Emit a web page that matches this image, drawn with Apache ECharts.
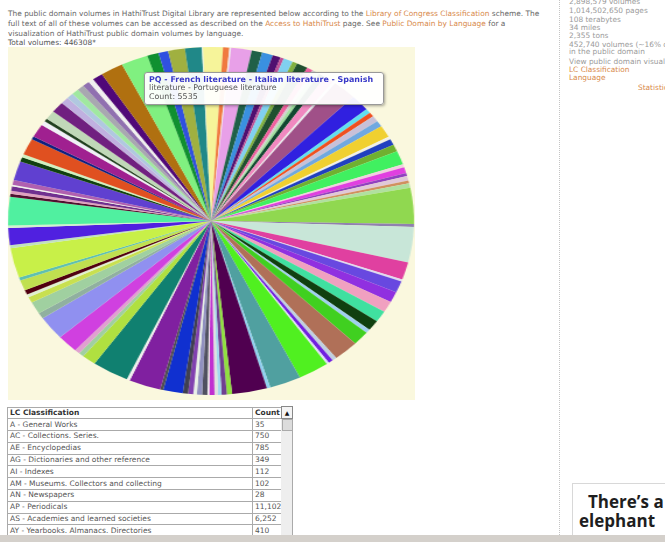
<!DOCTYPE html>
<html><head><meta charset="utf-8">
<script src="https://cdn.jsdelivr.net/npm/echarts@6/dist/echarts.min.js"></script>
<style>
html,body{margin:0;padding:0;background:#fff;width:665px;height:542px;overflow:hidden;position:relative;font-family:"DejaVu Sans",Verdana,sans-serif;}
.abs{position:absolute;white-space:nowrap;}
.intro{left:8px;font-size:7.43px;line-height:10px;color:#666;}
.intro a,.side a{color:#d8894a;text-decoration:none;}
.side{left:569px;font-size:7.4px;line-height:8px;color:#9a9a9a;}
#cream{left:8px;top:47px;width:407px;height:353px;background:#faf8de;}
#pie{left:31px;top:41px;width:360px;height:360px;transform:scaleX(1.1667);transform-origin:50% 50%;}
#tip{left:144px;top:72px;width:230px;height:27px;background:rgba(255,255,255,0.94);border:1px solid #999;border-radius:3px;box-shadow:1px 1px 3px rgba(0,0,0,.35);font-size:7.9px;line-height:8.4px;color:#555;padding:3px 4px 1px 4px;}
#tip b{color:#3838c8;font-size:7.95px;}
#tbl{left:7px;top:406.5px;border-collapse:collapse;table-layout:fixed;font-size:7.5px;color:#555;border:1px solid #888;}
#tbl td{border:1px solid #aaa;height:10.8px;padding:0 0 0 2px;line-height:10px;overflow:hidden;white-space:nowrap;}
#tbl tr.h td{font-weight:bold;color:#333;}
#scroll{left:281px;top:406px;width:11px;height:129px;background:#eeeeee;border:1px solid #aaa;border-left:none;}
#up{left:281px;top:406px;width:10px;height:11px;background:#f4f4f4;border:1px solid #888;font-size:6px;line-height:11px;text-align:center;color:#111;}
#thumb{left:282px;top:419px;width:9px;height:10px;background:#dcdcdc;border:1px solid #aaa;}
#vline{left:559px;top:0;height:535px;border-left:1px dotted #c4c4c4;}
#bar{left:0;top:535px;width:665px;height:7px;background:#d4d0cb;}
#eleph{left:572px;top:483px;width:100px;height:60px;border:1px solid #d8d8d8;background:#fff;}
.big{font-family:"Open Sans","Liberation Sans",sans-serif;font-weight:bold;font-size:17px;color:#1e1e1e;line-height:20px;}
</style></head>
<body>
<div class="abs intro" style="top:9px">The public domain volumes in HathiTrust Digital Library are represented below according to the <a>Library of Congress Classification</a> scheme. The</div>
<div class="abs intro" style="top:19px">full text of all of these volumes can be accessed as described on the <a>Access to HathiTrust</a> page. See <a>Public Domain by Language</a> for a</div>
<div class="abs intro" style="top:28.5px">visualization of HathiTrust public domain volumes by language.</div>
<div class="abs intro" style="top:38px;color:#555">Total volumes: 446308*</div>

<div id="cream" class="abs"></div>
<div id="pie" class="abs"></div>
<div id="tip" class="abs"></div>

<table id="tbl" class="abs"><colgroup><col style="width:245px"><col style="width:28px"></colgroup><tbody id="tbody"></tbody></table>
<div id="scroll" class="abs"></div>
<div id="up" class="abs">&#9650;</div>
<div id="thumb" class="abs"></div>

<div id="vline" class="abs"></div>
<div id="side"></div>

<div id="eleph" class="abs"></div>
<div class="abs big" style="left:588px;top:492px">There’s a</div>
<div class="abs big" style="left:579px;top:511px">elephant</div>
<div id="bar" class="abs"></div>

<script>
// ---- pie slices, clockwise from the top ----
const sliceNames = [
 "B","BC","BD","BF","BH","BJ","BL","BM","BP","BQ","BR","BS","BT","BV","BX",
 "C","CB","CC","CD","CE","CJ","CN","CR","CS","CT",
 "D","DA","DB","DC","DD","DE","DF","DG","DH","DJ","DK","DL","DP","DQ","DR","DS","DT","DU","DX",
 "E","F",
 "G","GA","GB","GC","GE","GF","GN","GR","GT","GV",
 "H","HA","HB","HC","HD","HE","HF","HG","HJ","HM","HN","HQ","HS","HT","HV","HX",
 "J","JA","JC","JF","JK","JN","JS","JV","JX",
 "K","L","LA","LB","LC","LD","M","ML","MT","N","NA","NB","NC","ND","NE","NK",
 "PQ",
 "PR","PS","PT","PZ","Q","QA","QB","QC","QD","QE","QH","QK","R","S","T","U","V","Z"
];
const sliceValues = [
 7067,2232,620,7314,3719,3843,2851,1240,3347,1736,3967,2108,1240,1488,2479,
 3347,992,8430,6819,1860,1860,2479,2479,4959,1240,
 2479,2975,5703,1240,2479,1240,1860,1240,1860,14877,1240,14629,7191,868,4835,4339,4587,4711,4339,
 1612,5827,
 8926,1612,1612,868,10910,11158,1240,12397,1860,1860,
 1240,1240,1860,620,1860,1860,1240,1860,1860,6943,1116,11282,1116,13017,4959,1860,
 1860,7438,9918,2479,4959,2479,1240,1860,4339,
 1240,12397,1240,7067,992,11778,1240,1240,1860,620,1984,7934,1860,1240,6819,1240,
 5535,
 1860,1240,3719,4587,2851,2479,2479,2479,2479,1860,3719,8058,9546,4091,3471,5951,5951,372
];
const sliceColors = [
 "#f6f49a","#f07a40","#f0e8f0","#e8a0e8","#206048","#3a90e0","#501070","#c05098","#80d0f0","#80b040","#205030","#f060a0","#d0d0d0","#a0e0a0","#104830",
 "#f088c0","#e8e8f0","#a05088","#3020e0","#60e0f0","#f05020","#c8c0d8","#70a8e0","#f0d030","#f0f0e8",
 "#2040c0","#70b030","#40f060","#f0d0e0","#e040e0","#9040c0","#e0c8d8","#d09060","#b0e0a0","#90d850","#9080b0","#c8e6d8","#e040a0","#e0d8f0","#6848e0","#9030e0","#f0a0c0","#40e0a0","#104010",
 "#a0d0f0","#40d020",
 "#b07058","#c0d0e0","#7020e0","#e0e0f8","#50f020","#50a0a0","#90d0f0","#500050","#90e040","#704090",
 "#a0d8f0","#e0e0e0","#c030d0","#f8f8f8","#505060","#9090c0","#e8f0e8","#8040b0","#404050","#1030d0","#505050","#8020a0","#f0f0f0","#108070","#b0e040","#a0d0a0",
 "#e0a0d0","#d040e0","#9090f0","#90b0a0","#a0d0a0","#c8e050","#e0f0d0","#500010","#c0e050",
 "#60c0b0","#c8f048","#c0e0c0","#5020e0","#d0f0d0","#50f0a0","#501030","#e0a0c0","#703090","#f0f0f0","#b060b0","#6040d0","#104010","#d0f0c0","#e05020","#102080",
 "#a02090",
 "#f0f0f8","#204020","#c0d8b8","#702080","#c0b0e0","#b0c8e0","#a0e8a0","#a8a8b0","#9070b0","#f0f0f0","#500878","#b07010","#80f080","#109030","#3050e0","#a0b040","#208888","#e0f0e0"
];
// ---- hovered slice tooltip ----
const tipName = "PQ";
const tipLines = ["PQ - French literature - Italian literature - Spanish", "literature - Portuguese literature"];

// ---- table rows ----
const tableHeader = ["LC Classification", "Count"];
const tableNames = ["A - General Works","AC - Collections. Series.","AE - Encyclopedias","AG - Dictionaries and other reference","AI - Indexes","AM - Museums. Collectors and collecting","AN - Newspapers","AP - Periodicals","AS - Academies and learned societies","AY - Yearbooks. Almanacs. Directories"];
const tableCounts = ["35","750","785","349","112","102","28","11,102","6,252","410"];

// ---- side panel ----
const sideLines = [
 ["2,898,579 volumes",-2.5,false],["1,014,502,650 pages",7,false],["108 terabytes",15.5,false],["34 miles",24,false],
 ["2,355 tons",32,false],["452,740 volumes (~16% of total)",40.5,false],["in the public domain",48,false],
 ["View public domain visualizations:",58,false],["LC Classification",66,true],["Language",74,true]
];

const chart = echarts.init(document.getElementById('pie'));
chart.setOption({
  animation:false,
  series:[{
    type:'pie', center:['50%','50%'], radius:[0,174], startAngle:92.3, clockwise:true,
    silent:true, label:{show:false}, labelLine:{show:false}, emphasis:{disabled:true},
    itemStyle:{borderWidth:0},
    data: sliceNames.map((n,i)=>({name:n, value:sliceValues[i], itemStyle:{color:sliceColors[i]}}))
  }]
});

const tipVal = sliceValues[sliceNames.indexOf(tipName)];
document.getElementById('tip').innerHTML = '<b>'+tipLines[0]+'</b><br>'+tipLines[1]+'<br>Count: '+tipVal;

let rows = '<tr class="h"><td>'+tableHeader[0]+'</td><td>'+tableHeader[1]+'</td></tr>';
tableNames.forEach((n,i)=>{ rows += '<tr><td>'+n+'</td><td>'+tableCounts[i]+'</td></tr>'; });
document.getElementById('tbody').innerHTML = rows;

let side = '';
sideLines.forEach(l=>{ side += '<div class="abs side" style="top:'+l[1]+'px">'+(l[2]?'<a>'+l[0]+'</a>':l[0])+'</div>'; });
side += '<div class="abs side" style="left:638px;top:84px"><a>Statistics</a></div>';
document.getElementById('side').innerHTML = side;
</script>
</body></html>
